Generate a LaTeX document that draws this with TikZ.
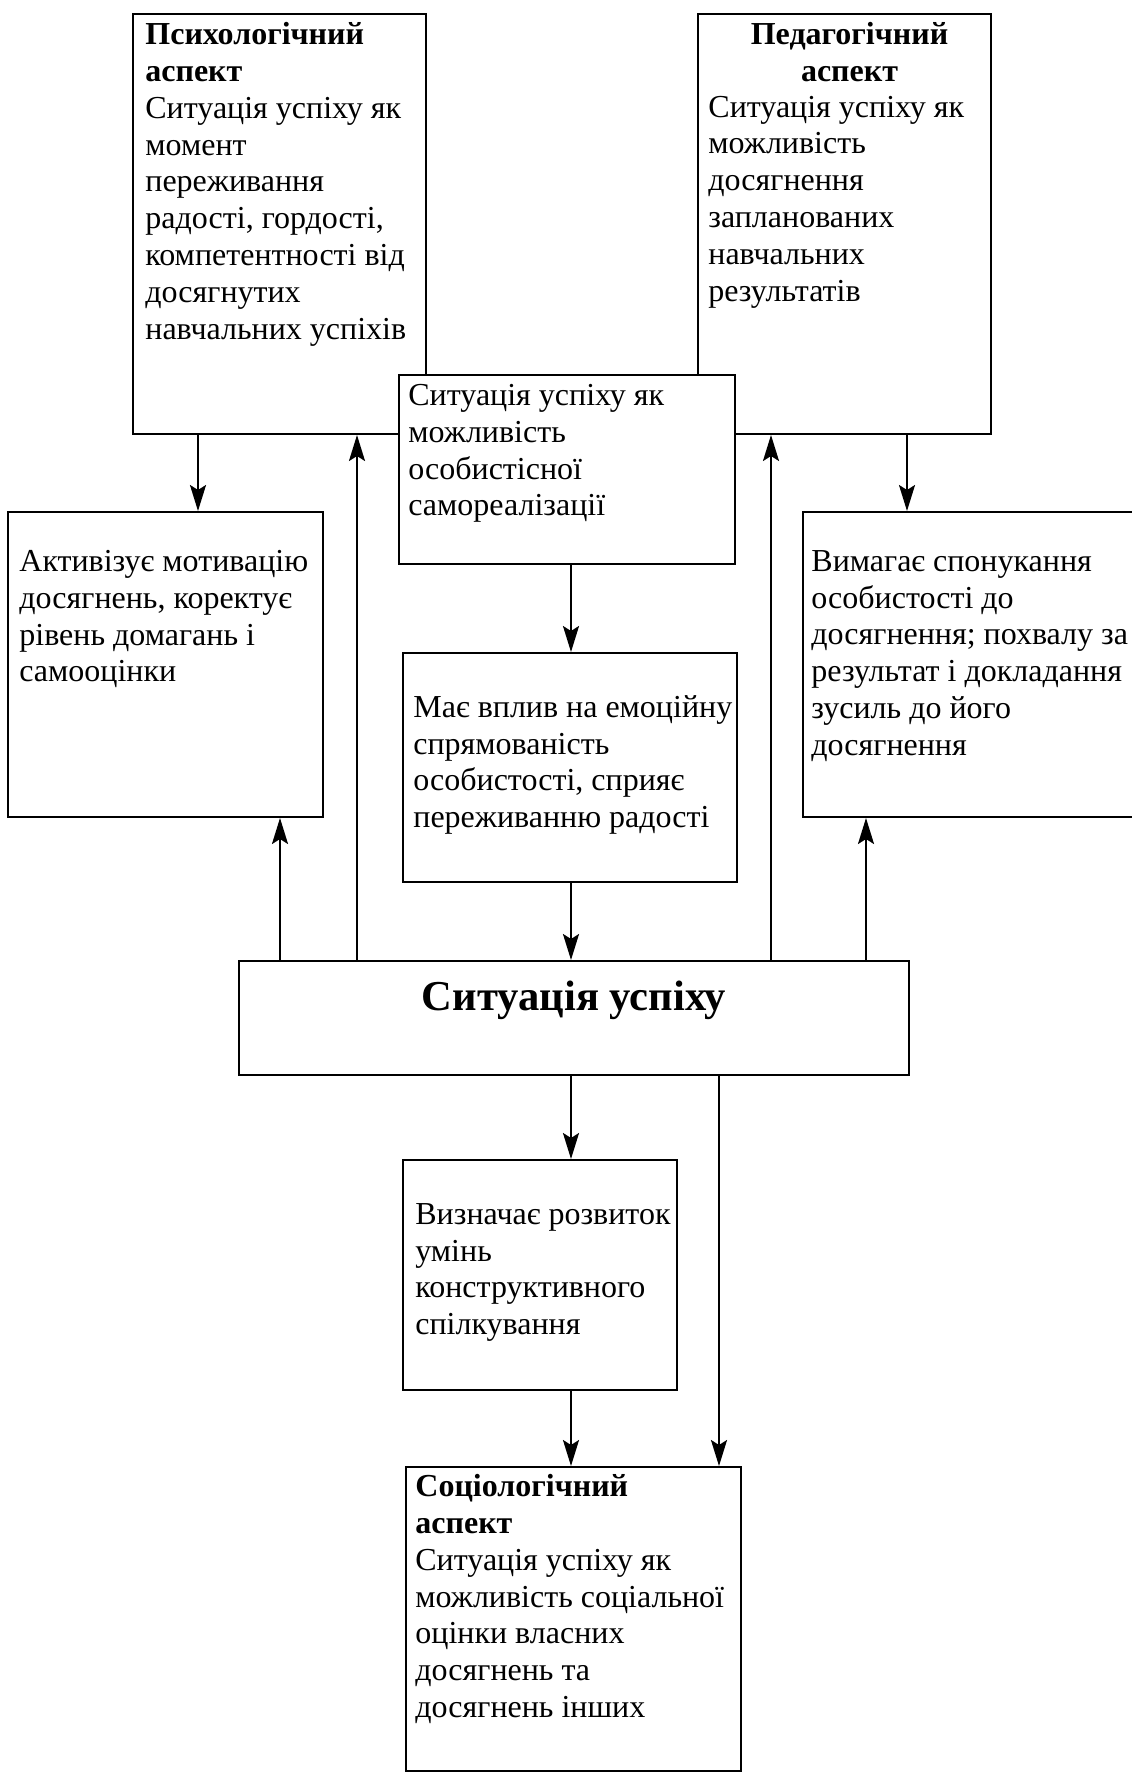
\documentclass[tikz,border=0pt]{standalone}
\usepackage{fontspec}
\setmainfont{Liberation Serif}
\usetikzlibrary{arrows.meta,fit}

\begin{document}
\begin{tikzpicture}[x=0.5pt,y=-0.5pt,
    box/.style={draw,line width=1pt,fill=white,inner sep=0pt},
    txt/.style={anchor=north west,align=left,inner sep=0pt,font=\fontsize{16}{18.4}\selectfont},
    arr/.style={line width=1.1pt,-{Stealth[length=13pt,width=8pt,inset=2.5pt]}}]
    \useasboundingbox (0,0) rectangle (1131,1773);
    % boxes
    \node[box,fit={(133,14) (426,434)}] (psych) {};
    \node[box,fit={(698,14) (991,434)}] (ped) {};
    \node[box,fit={(399,375) (735,564)}] (self) {};
    \node[box,fit={(8,512) (323,817)}] (left) {};
    \node[box,fit={(803,512) (1145,817)}] (right) {};
    \node[box,fit={(403,653) (737,882)}] (mid) {};
    \node[box,fit={(239,961) (909,1075)}] (ctr) {};
    \node[box,fit={(403,1160) (677,1390)}] (bot) {};
    \node[box,fit={(406,1467) (741,1771)}] (soc) {};
    % texts
    \node[txt] (psycht) at ([shift={(13,9)}]psych.north west) {\textbf{Психологічний}\\\textbf{аспект}\\Ситуація успіху як\\момент\\переживання\\радості, гордості,\\компетентності від\\досягнутих\\навчальних успіхів};
    \node[txt,anchor=north,align=center,font=\bfseries\fontsize{16}{18.4}\selectfont] (pedh) at ([shift={(5,9)}]ped.north) {Педагогічний\\аспект};
    \node[txt] (pedt) at ([shift={(11,82.6)}]ped.north west) {Ситуація успіху як\\можливість\\досягнення\\запланованих\\навчальних\\результатів};
    \node[txt] (selft) at ([shift={(10,10)}]self.north west) {Ситуація успіху як\\можливість\\особистісної\\самореалізації};
    \node[txt] (leftt) at ([shift={(12,39)}]left.north west) {Активізує мотивацію\\досягнень, коректує\\рівень домагань і\\самооцінки};
    \node[txt] (rightt) at ([shift={(9,39)}]right.north west) {Вимагає спонукання\\особистості до\\досягнення; похвалу за\\результат і докладання\\зусиль до його\\досягнення};
    \node[txt] (midt) at ([shift={(11,43)}]mid.north west) {Має вплив на емоційну\\спрямованість\\особистості, сприяє\\переживанню радості};
    \node[font=\bfseries\fontsize{21.3}{24}\selectfont,inner sep=0pt] (ctrt) at ([shift={(0,-18)}]ctr.center) {Ситуація успіху};
    \node[txt] (bott) at ([shift={(13,44)}]bot.north west) {Визначає розвиток\\умінь\\конструктивного\\спілкування};
    \node[txt] (soct) at ([shift={(10,8)}]soc.north west) {\textbf{Соціологічний}\\\textbf{аспект}\\Ситуація успіху як\\можливість соціальної\\оцінки власних\\досягнень та\\досягнень інших};
    % arrows
    \draw[arr] (198,0 |- psych.south) -- (198,0 |- left.north);
    \draw[arr] (907,0 |- ped.south) -- (907,0 |- right.north);
    \draw[arr] (280,0 |- ctr.north) -- (280,0 |- left.south);
    \draw[arr] (357,0 |- ctr.north) -- (357,0 |- psych.south);
    \draw[arr] (771,0 |- ctr.north) -- (771,0 |- ped.south);
    \draw[arr] (866,0 |- ctr.north) -- (866,0 |- right.south);
    \draw[arr] (571,0 |- self.south) -- (571,0 |- mid.north);
    \draw[arr] (571,0 |- mid.south) -- (571,0 |- ctr.north);
    \draw[arr] (571,0 |- ctr.south) -- (571,0 |- bot.north);
    \draw[arr] (571,0 |- bot.south) -- (571,0 |- soc.north);
    \draw[arr] (719,0 |- ctr.south) -- (719,0 |- soc.north);
\end{tikzpicture}
\end{document}
